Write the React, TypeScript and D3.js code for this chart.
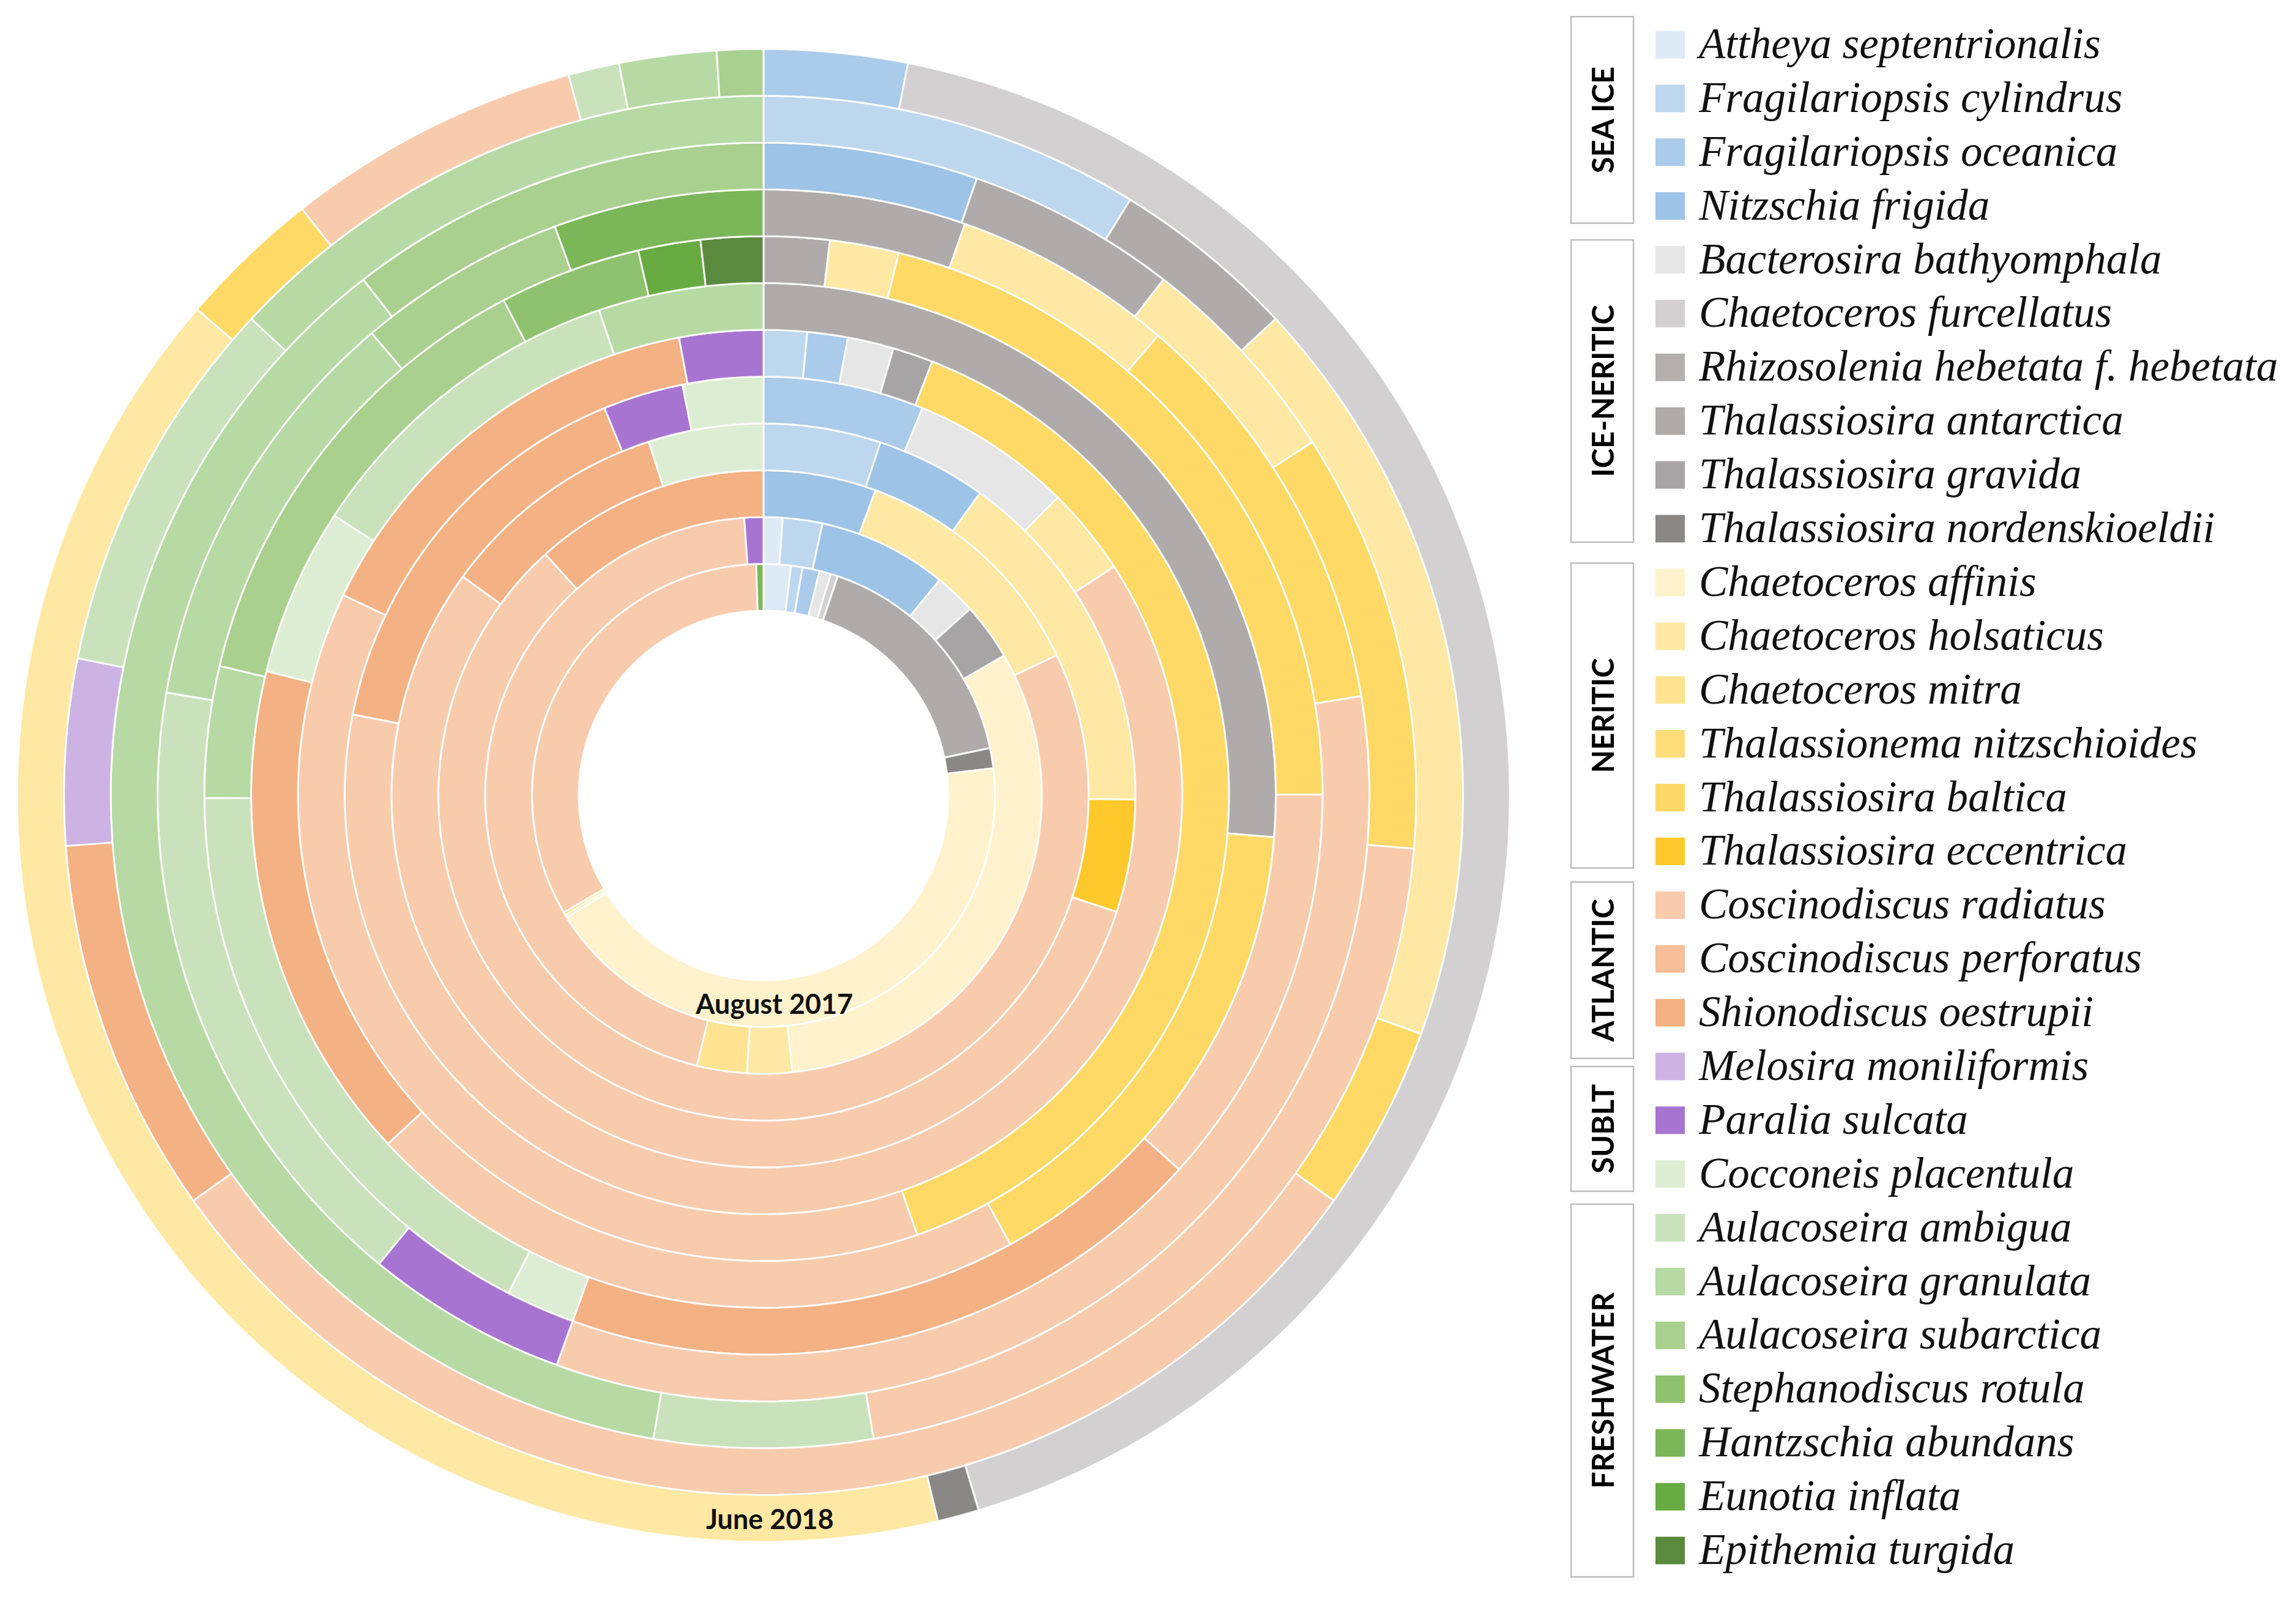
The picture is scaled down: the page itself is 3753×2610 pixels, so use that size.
import React from "react";
import * as d3 from "d3";

// ── Species (legend order = clockwise order inside every ring) ────────────────
const SPECIES = [
  "Attheya septentrionalis",
  "Fragilariopsis cylindrus",
  "Fragilariopsis oceanica",
  "Nitzschia frigida",
  "Bacterosira bathyomphala",
  "Chaetoceros furcellatus",
  "Rhizosolenia hebetata f. hebetata",
  "Thalassiosira antarctica",
  "Thalassiosira gravida",
  "Thalassiosira nordenskioeldii",
  "Chaetoceros affinis",
  "Chaetoceros holsaticus",
  "Chaetoceros mitra",
  "Thalassionema nitzschioides",
  "Thalassiosira baltica",
  "Thalassiosira eccentrica",
  "Coscinodiscus radiatus",
  "Coscinodiscus perforatus",
  "Shionodiscus oestrupii",
  "Melosira moniliformis",
  "Paralia sulcata",
  "Cocconeis placentula",
  "Aulacoseira ambigua",
  "Aulacoseira granulata",
  "Aulacoseira subarctica",
  "Stephanodiscus rotula",
  "Hantzschia abundans",
  "Eunotia inflata",
  "Epithemia turgida",
];

// ecological groups, spans given in legend-row units
const GROUPS = [
  { label: "SEA ICE", from: -0.52, to: 3.32 },
  { label: "ICE-NERITIC", from: 3.63, to: 9.25 },
  { label: "NERITIC", from: 9.64, to: 15.31 },
  { label: "ATLANTIC", from: 15.57, to: 18.85 },
  { label: "SUBLT", from: 19.0, to: 21.32 },
  { label: "FRESHWATER", from: 21.56, to: 28.49 },
];

// ── Relative abundance (%) per sample ring, inner (Aug 2017) → outer (Jun 2018)
//                 At   Fc   Fo   Nf   Bb   Cf   Rh   Ta   Tg   Tn   Ca   Ch   Cm   Tz   Tb   Te   Cr   Cp   So   Mm   Ps   Cpl  Aa   Ag   As   Sr   Ha   Ei   Et
const ring01 = [1.9, 0.8, 1.2, 0, 0.8, 0.5, 0, 16.5, 0, 1.4, 43.0, 0.2, 0, 0, 0.2, 0, 32.9, 0, 0, 0, 0, 0, 0, 0, 0, 0, 0.5, 0, 0];
const ring02 = [1.1, 2.3, 0, 7.5, 2.4, 0, 0, 0, 3.3, 0, 31.7, 2.6, 2.9, 0, 0, 0, 45.0, 0, 0, 0, 1.1, 0, 0, 0, 0, 0, 0, 0, 0];
const ring03 = [0, 0, 0, 5.6, 0, 0, 0, 0, 0, 0, 0, 12.3, 0, 0, 0, 0, 70.4, 0, 11.7, 0, 0, 0, 0, 0, 0, 0, 0, 0, 0];
const ring04 = [0, 5.1, 0, 4.8, 0, 0, 0, 0, 0, 0, 0, 15.3, 0, 0, 0, 4.9, 55.0, 0, 10.0, 0, 0, 5.0, 0, 0, 0, 0, 0, 0, 0];
const ring05 = [0, 0, 6.2, 0, 6.2, 0, 0, 0, 0, 0, 0, 3.4, 0, 0, 0, 0, 62.3, 0, 15.7, 0, 3.1, 3.1, 0, 0, 0, 0, 0, 0, 0];
const ring06 = [0, 1.5, 1.4, 0, 1.6, 0, 0, 0, 1.4, 0, 0, 0, 0, 0, 38.7, 0, 37.4, 0, 15.0, 0, 2.9, 0, 0, 0, 0, 0, 0, 0, 0];
const ring07 = [0, 0, 0, 0, 0, 0, 0, 26.3, 0, 0, 0, 0, 0, 0, 15.7, 0, 21.1, 0, 15.8, 0, 0, 5.3, 10.6, 5.2, 0, 0, 0, 0, 0];
const ring08 = [0, 0, 0, 0, 0, 0, 0, 1.9, 0, 0, 0, 2.0, 0, 0, 21.1, 0, 11.7, 0, 18.9, 0, 0, 2.0, 17.4, 3.8, 13.6, 4.1, 0, 1.8, 1.8];
const ring09 = [0, 0, 0, 0, 0, 0, 0, 5.4, 0, 0, 0, 5.9, 0, 0, 11.1, 0, 33.2, 0, 0, 0, 5.4, 0, 16.8, 11.1, 5.6, 0, 5.6, 0, 0];
const ring10 = [0, 0, 0, 5.3, 0, 0, 0, 5.2, 0, 0, 0, 5.4, 0, 0, 10.4, 0, 21.0, 0, 0, 0, 0, 0, 5.4, 36.8, 10.5, 0, 0, 0, 0];
const ring11 = [0, 8.8, 0, 0, 0, 0, 0, 4.3, 0, 0, 0, 17.5, 0, 0, 4.3, 0, 30.4, 0, 8.7, 4.3, 0, 0, 8.8, 13.1, 0, 0, 0, 0, 0];
const ring12 = [0, 0, 3.1, 0, 0, 42.2, 0, 0, 0, 0.9, 0, 40.0, 0, 0, 3.1, 0, 6.4, 0, 0, 0, 0, 0, 1.1, 2.1, 1.0, 0, 0, 0, 0];

const RINGS = [ring01, ring02, ring03, ring04, ring05, ring06, ring07, ring08, ring09, ring10, ring11, ring12];

// only the first and last sample carry a label
const RING_LABELS = ["August 2017", "", "", "", "", "", "", "", "", "", "", "June 2018"];

// ── Palette (same order as SPECIES) ───────────────────────────────────────────
const PALETTE = [
  "#DEEAF6", "#BDD7EE", "#AACBEA", "#9DC3E6",
  "#E7E6E6", "#D2D0D0", "#B3AFAF", "#AFABAB", "#A6A4A4", "#8A8787",
  "#FFF2CC", "#FFE8A3", "#FFE390", "#FFDD78", "#FFD966", "#FFC92C",
  "#F8CBAD", "#F6BE99", "#F4B183",
  "#CDB3E3", "#A775D1",
  "#DDEDD3", "#C9E2BB", "#B7D9A3", "#A9D08E", "#8FC26E", "#7BB658", "#67AB42", "#5A8A3E",
];

// ── Layout ────────────────────────────────────────────────────────────────────
const W = 3753;
const H = 2610;
const CX = 1248;
const CY = 1300;
const R_HOLE = 302;
const R_OUT = 1220;

const LEG = { boxX: 2568, boxW: 102, swX: 2706, swW: 48, swH: 45, textX: 2777, top: 73, bottom: 2534 };

export default function App() {
  const ringR = d3.scaleLinear().domain([0, RINGS.length]).range([R_HOLE, R_OUT]);
  const pie = d3.pie<number>().sort(null).value((d) => d).startAngle(0).endAngle(2 * Math.PI);
  const arc = d3.arc<d3.PieArcDatum<number>>();

  const rowY = d3.scaleLinear().domain([0, SPECIES.length - 1]).range([LEG.top, LEG.bottom]);

  // label placement (angle in degrees, clockwise from 12 o'clock)
  const labelAngle = [177, 179.5];
  const labelled = RING_LABELS.map((t, i) => ({ t, i })).filter((d) => d.t);

  return (
    <svg
      width={W}
      height={H}
      viewBox={`0 0 ${W} ${H}`}
      style={{ position: "absolute", left: 0, top: 0, background: "#FFFFFF" }}
    >
      <rect x={0} y={0} width={W} height={H} fill="#FFFFFF" />

      {/* ── Rings ───────────────────────────────────────────── */}
      <g transform={`translate(${CX},${CY})`}>
        {RINGS.map((values, ri) => {
          const inner = ringR(ri);
          const outer = ringR(ri + 1);
          return (
            <g key={ri}>
              {pie(values)
                .filter((a) => a.value > 0)
                .map((a) => (
                  <path
                    key={a.index}
                    d={arc.innerRadius(inner).outerRadius(outer)(a) ?? ""}
                    fill={PALETTE[a.index]}
                    stroke="#FFFFFF"
                    strokeWidth={3}
                    strokeOpacity={0.9}
                  />
                ))}
            </g>
          );
        })}

        {labelled.map((d, k) => {
          const rm = (ringR(d.i) + ringR(d.i + 1)) / 2;
          const th = (labelAngle[k] * Math.PI) / 180;
          return (
            <text
              key={d.t}
              x={rm * Math.sin(th)}
              y={-rm * Math.cos(th)}
              textAnchor="middle"
              dominantBaseline="central"
              fontFamily="Lato, 'Open Sans', sans-serif"
              fontWeight={700}
              fontSize={45}
              fill="#111111"
            >
              {d.t}
            </text>
          );
        })}
      </g>

      {/* ── Legend group brackets ───────────────────────────── */}
      {GROUPS.map((g) => {
        const y0 = rowY(g.from);
        const y1 = rowY(g.to);
        const cx = LEG.boxX + LEG.boxW / 2;
        const cy = (y0 + y1) / 2;
        return (
          <g key={g.label}>
            <rect
              x={LEG.boxX}
              y={y0}
              width={LEG.boxW}
              height={y1 - y0}
              fill="none"
              stroke="#BDBDBD"
              strokeWidth={2.5}
            />
            <text
              transform={`translate(${cx},${cy}) rotate(-90)`}
              textAnchor="middle"
              dominantBaseline="central"
              fontFamily="Lato, 'Open Sans', sans-serif"
              fontWeight={700}
              fontSize={49}
              fill="#000000"
            >
              {g.label}
            </text>
          </g>
        );
      })}

      {/* ── Legend entries ──────────────────────────────────── */}
      {SPECIES.map((name, i) => {
        const y = rowY(i);
        return (
          <g key={name}>
            <rect x={LEG.swX} y={y - LEG.swH / 2} width={LEG.swW} height={LEG.swH} fill={PALETTE[i]} />
            <text
              x={LEG.textX}
              y={y + 22}
              fontFamily="'Liberation Serif', 'Times New Roman', serif"
              fontStyle="italic"
              fontSize={71}
              fill="#111111"
            >
              {name}
            </text>
          </g>
        );
      })}
    </svg>
  );
}
